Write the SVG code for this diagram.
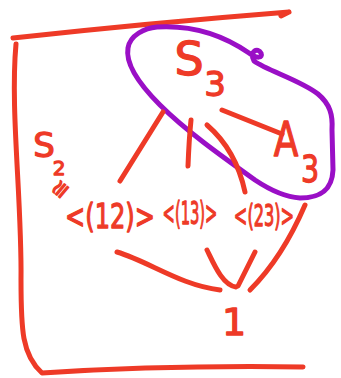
<svg xmlns="http://www.w3.org/2000/svg" width="341" height="378" viewBox="0 0 341 378">
<style>
.ink{fill:none;stroke:#EE3A27;stroke-width:5;stroke-linecap:round;stroke-linejoin:round}
.hull{fill:none;stroke:#9A0FC6;stroke-width:5;stroke-linecap:round;stroke-linejoin:round}
.t{fill:#EE3A27;stroke:#EE3A27;stroke-width:1.3;stroke-linejoin:round;font-family:"DejaVu Sans","Liberation Sans",sans-serif;text-anchor:middle}
</style>
<rect width="341" height="378" fill="#ffffff"/>
<g id="frame">
<path class="ink" d="M13,38 Q150,23 289,12 M281,16 L289,12"/>
<path class="ink" d="M16,44 C10,110 22,200 21,280 C21,330 22,355 42,373 Q170,365 303,367"/>
</g>
<g id="hull">
<path class="hull" d="M157,27 C190,25 220,33 249,53 C257,59 263,58 261,53 C258,47 249,51 254,61 C268,71 300,80 318,94 C330,104 333,115 332,130 L333,170 C332,192 318,198 300,198 C285,197 270,190 255,180 C220,155 185,130 160,105 C140,85 125,65 128,48 C130,35 145,28 157,27 Z"/>
</g>
<g id="connectors">
<path class="ink" d="M120,181 L163,112"/>
<path class="ink" d="M188,166 Q189,140 191,120"/>
<path class="ink" d="M207,125 Q236,150 245,192"/>
<path class="ink" d="M222,110 L282,134"/>
<path class="ink" d="M117,252 C150,262 180,285 220,290"/>
<path class="ink" d="M207,250 C213,262 222,285 236,287 M238,286 L255,252"/>
<path class="ink" d="M305,205 C290,240 270,270 250,290"/>
</g>
<g id="S3">
<text class="t" x="189" y="75" font-size="46">S</text>
<text class="t" x="215" y="96" font-size="34">3</text>
</g>
<g id="A3">
<text class="t" x="0" y="0" font-size="48" transform="translate(286,156) scale(0.75,1)">A</text>
<text class="t" x="0" y="0" font-size="38" transform="translate(310,182) scale(0.75,1)">3</text>
</g>
<g id="S2">
<text class="t" x="44" y="157" font-size="34">S</text>
<text class="t" x="59" y="175" font-size="20">2</text>
</g>
<g id="iso">
<text class="t" x="0" y="0" font-size="22" transform="translate(66,194) rotate(-50)">≅</text>
</g>
<g id="C12">
<text class="t" x="0" y="0" font-size="34" transform="translate(110,228) scale(0.71,1)">&lt;(12)&gt;</text>
</g>
<g id="C13">
<text class="t" x="0" y="0" font-size="32" transform="translate(190,224) scale(0.46,1)">&lt;(13)&gt;</text>
</g>
<g id="C23">
<text class="t" x="0" y="0" font-size="30" transform="translate(264,226) scale(0.54,1)">&lt;(23)&gt;</text>
</g>
<g id="one">
<text class="t" x="234" y="335" font-size="38">1</text>
</g>
</svg>
